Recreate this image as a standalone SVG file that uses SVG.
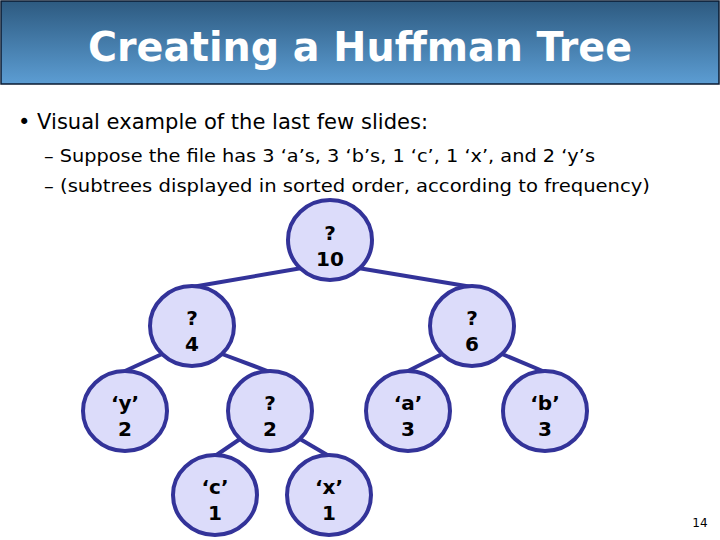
<svg xmlns="http://www.w3.org/2000/svg" width="720" height="540" viewBox="0 0 720 540">
<defs><linearGradient id="g" x1="0" y1="0" x2="0" y2="1"><stop offset="0" stop-color="#2d5a80"/><stop offset="1" stop-color="#5c9dd3"/></linearGradient></defs>
<style>
.n ellipse{fill:#dcdcfa;stroke:#333399;stroke-width:4}
.n text{font-family:"DejaVu Sans",sans-serif;font-weight:bold;font-size:20px;text-anchor:middle;fill:#000}
.e line{stroke:#333399;stroke-width:4}
.t{font-family:"DejaVu Sans",sans-serif;fill:#000}
</style>
<rect x="1" y="1" width="718" height="83" fill="url(#g)" stroke="#0a1a30" stroke-width="1.5"/>
<text x="360" y="61" text-anchor="middle" font-family="DejaVu Sans Condensed,DejaVu Sans,sans-serif" font-weight="bold" font-size="40" fill="#fff" textLength="544" lengthAdjust="spacingAndGlyphs">Creating a Huffman Tree</text>
<text class="t" x="18" y="129" font-size="21" textLength="410" lengthAdjust="spacingAndGlyphs">• Visual example of the last few slides:</text>
<text class="t" x="44" y="162" font-size="18.5" textLength="551" lengthAdjust="spacingAndGlyphs">–  Suppose the file has 3 ‘a’s, 3 ‘b’s, 1 ‘c’, 1 ‘x’, and 2 ‘y’s</text>
<text class="t" x="44" y="192" font-size="18.5" textLength="606" lengthAdjust="spacingAndGlyphs">–  (subtrees displayed in sorted order, according to frequency)</text>
<g class="e">
<line x1="302" y1="268" x2="192" y2="287"/><line x1="358" y1="268" x2="472" y2="287"/>
<line x1="162" y1="354" x2="125" y2="371"/><line x1="222" y1="354" x2="270" y2="372"/>
<line x1="442" y1="354" x2="408" y2="371"/><line x1="502" y1="354" x2="545" y2="372"/>
<line x1="240" y1="439" x2="215" y2="456"/><line x1="300" y1="439" x2="329" y2="456"/>
</g>
<g class="n" id="n10"><ellipse cx="330" cy="240" rx="42" ry="40"/><text x="330" y="240">?</text><text x="330" y="266">10</text></g>
<g class="n" id="n4"><ellipse cx="192" cy="326" rx="42" ry="40"/><text x="192" y="325">?</text><text x="192" y="351">4</text></g>
<g class="n" id="n6"><ellipse cx="472" cy="326" rx="42" ry="40"/><text x="472" y="325">?</text><text x="472" y="351">6</text></g>
<g class="n" id="ny"><ellipse cx="125" cy="411" rx="42" ry="40"/><text x="125" y="410">‘y’</text><text x="125" y="436">2</text></g>
<g class="n" id="n2"><ellipse cx="270" cy="411" rx="42" ry="40"/><text x="270" y="410">?</text><text x="270" y="436">2</text></g>
<g class="n" id="na"><ellipse cx="408" cy="411" rx="42" ry="40"/><text x="408" y="410">‘a’</text><text x="408" y="436">3</text></g>
<g class="n" id="nb"><ellipse cx="545" cy="411" rx="42" ry="40"/><text x="545" y="410">‘b’</text><text x="545" y="436">3</text></g>
<g class="n" id="nc"><ellipse cx="215" cy="495" rx="42" ry="40"/><text x="215" y="494">‘c’</text><text x="215" y="520">1</text></g>
<g class="n" id="nx"><ellipse cx="329" cy="495" rx="42" ry="40"/><text x="329" y="494">‘x’</text><text x="329" y="520">1</text></g>
<text class="t" x="700" y="527" font-size="12" text-anchor="middle">14</text>
</svg>
